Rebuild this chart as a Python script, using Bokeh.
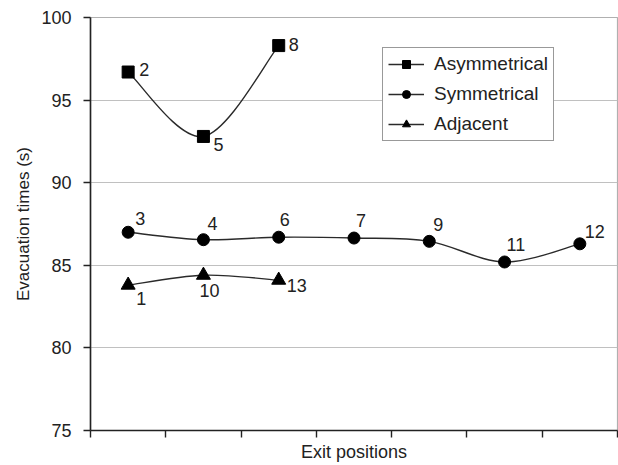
import numpy as np
from bokeh.plotting import figure
from bokeh.models import FixedTicker, Range1d, Legend, LegendItem, ColumnDataSource
from bokeh.core.properties import value
from bokeh.embed import file_html
from bokeh.resources import INLINE

FONT = "Liberation Sans"

# ---- data ----
asym_x = [1, 2, 3]
asym_y = [96.7, 92.8, 98.3]
asym_labels = ["2", "5", "8"]

sym_x = [1, 2, 3, 4, 5, 6, 7]
sym_y = [87.0, 86.55, 86.7, 86.65, 86.45, 85.2, 86.3]
sym_labels = ["3", "4", "6", "7", "9", "11", "12"]

adj_x = [1, 2, 3]
adj_y = [83.8, 84.4, 84.1]
adj_labels = ["1", "10", "13"]

y_ticks = [75, 80, 85, 90, 95, 100]
x_tick_bounds = [0.5, 1.5, 2.5, 3.5, 4.5, 5.5, 6.5, 7.5]

# label offsets (screen px) -- layout only
asym_dx = [11, 10, 10]
asym_dy = [-3, 8, -1]
sym_dx = [7, 4, 1, 2, 4, 2, 5]
sym_dy = [-14, -16, -18, -18, -17, -17, -12]
adj_dx = [8, -4, 8]
adj_dy = [13, 15, 5]

p = figure(width=618, height=465, output_backend="svg", toolbar_location=None,
           x_range=Range1d(0.5, 7.5), y_range=Range1d(75, 100),
           min_border_left=90, min_border_right=1, min_border_top=17, min_border_bottom=35)
p.background_fill_color = "white"
p.border_fill_color = "white"
p.outline_line_color = "#b0b0b0"
p.outline_line_width = 1.2

# axes
p.yaxis.ticker = FixedTicker(ticks=y_ticks)
p.yaxis.axis_label = "Evacuation times (s)"
p.xaxis.ticker = FixedTicker(ticks=x_tick_bounds)
p.xaxis.axis_label = "Exit positions"
p.xaxis.major_label_overrides = {t: "" for t in x_tick_bounds}
for ax in (p.xaxis[0], p.yaxis[0]):
    ax.axis_line_color = "#222222"
    ax.axis_line_width = 1.6
    ax.major_tick_line_color = "#222222"
    ax.major_tick_line_width = 1.4
    ax.major_tick_out = 7
    ax.major_tick_in = 0
    ax.minor_tick_line_color = None
    ax.axis_label_text_font = FONT
    ax.axis_label_text_font_size = "18px"
    ax.axis_label_text_font_style = "normal"
    ax.axis_label_text_color = "#222222"
    ax.major_label_text_font = FONT
    ax.major_label_text_font_size = "18px"
    ax.major_label_text_color = "#222222"
p.xaxis.major_label_standoff = 0
p.xaxis.major_label_text_font_size = "2px"
p.xaxis.axis_label_standoff = 4
p.yaxis.major_label_standoff = 12
p.yaxis.axis_label_text_font_size = "17px"
p.yaxis.axis_label_standoff = 5

p.xgrid.grid_line_color = None
p.ygrid.grid_line_color = "#c0c0c0"
p.ygrid.grid_line_width = 1.2


def smooth(xs, ys):
    xs = np.asarray(xs, float)
    ys = np.asarray(ys, float)
    n = len(xs)
    x0, y0, x1, y1, cx0, cy0, cx1, cy1 = ([] for _ in range(8))
    for i in range(n - 1):
        im = max(i - 1, 0)
        ip = min(i + 2, n - 1)
        x0.append(xs[i]); y0.append(ys[i])
        x1.append(xs[i + 1]); y1.append(ys[i + 1])
        cx0.append(xs[i] + (xs[i + 1] - xs[im]) / 6)
        cy0.append(ys[i] + (ys[i + 1] - ys[im]) / 6)
        cx1.append(xs[i + 1] - (xs[ip] - xs[i]) / 6)
        cy1.append(ys[i + 1] - (ys[ip] - ys[i]) / 6)
    return dict(x0=x0, y0=y0, x1=x1, y1=y1, cx0=cx0, cy0=cy0, cx1=cx1, cy1=cy1)


LINE_C = "#2a2a2a"
items = []
series = [
    ("Asymmetrical", asym_x, asym_y, asym_labels, asym_dx, asym_dy, "square", 12),
    ("Symmetrical", sym_x, sym_y, sym_labels, sym_dx, sym_dy, "circle", 12),
    ("Adjacent", adj_x, adj_y, adj_labels, adj_dx, adj_dy, "triangle", 14),
]
for name, xs, ys, labs, dxs, dys, marker, size in series:
    p.bezier(source=ColumnDataSource(smooth(xs, ys)), x0="x0", y0="y0", x1="x1", y1="y1",
             cx0="cx0", cy0="cy0", cx1="cx1", cy1="cy1", line_color=LINE_C, line_width=1.4)
    dummy = p.line(x=[np.nan], y=[np.nan], line_color=LINE_C, line_width=1.4)
    sc = p.scatter(x=xs, y=ys, marker=marker, size=size, fill_color="black", line_color="black")
    items.append(LegendItem(label=name, renderers=[dummy, sc]))
    src = ColumnDataSource(dict(x=xs, y=ys, t=labs, dx=dxs, dy=dys))
    p.text(x="x", y="y", text="t", x_offset="dx", y_offset="dy", source=src,
           text_font=value(FONT), text_font_size="18px", text_color="#222222",
           text_align="left", text_baseline="middle")

legend = Legend(items=items, location=(292, 289))
legend.border_line_color = "#333333"
legend.border_line_width = 1.2
legend.padding = 5
legend.margin = 0
legend.spacing = 8
legend.label_height = 20
legend.glyph_height = 20
legend.glyph_width = 36
legend.label_standoff = 10
legend.label_text_font = FONT
legend.label_text_font_size = "19px"
legend.label_text_color = "#222222"
legend.background_fill_alpha = 1.0
p.add_layout(legend)

open("out.html", "w").write(file_html(p, INLINE))
